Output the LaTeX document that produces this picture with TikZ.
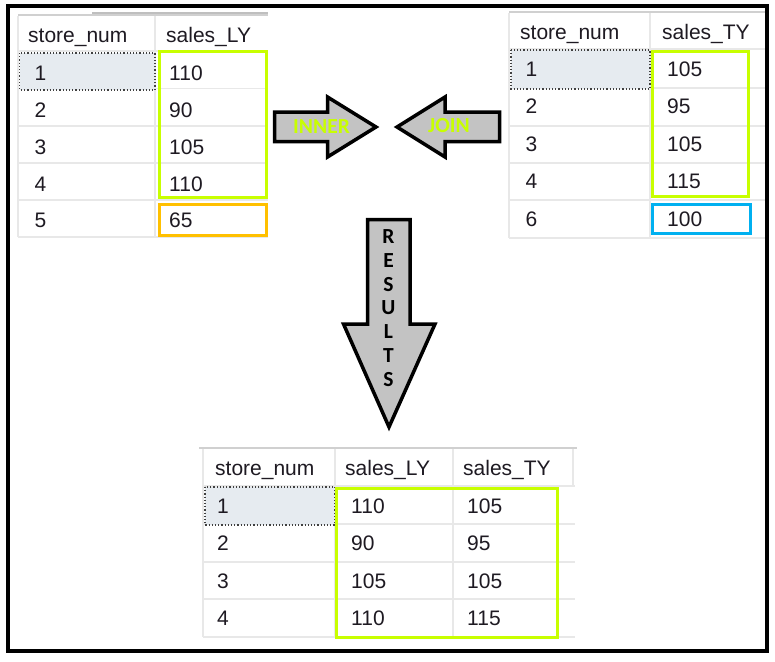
\documentclass[tikz,border=0pt]{standalone}
\usepackage{fontspec}
\setmainfont{Liberation Sans}
\newfontfamily\arrowfont{Carlito}
\definecolor{hilime}{RGB}{200,255,0}
\definecolor{gridc}{RGB}{232,232,232}
\definecolor{topc}{RGB}{208,208,208}
\definecolor{selc}{RGB}{230,235,240}
\definecolor{orangebox}{RGB}{255,192,0}
\definecolor{bluebox}{RGB}{0,176,240}
\definecolor{arrowgrey}{RGB}{195,195,195}
\definecolor{txt}{RGB}{30,26,34}
\tikzset{
  cell/.style={anchor=base west, inner sep=0pt, font=\fontsize{21}{25}\selectfont, text=txt},
  gridline/.style={draw=gridc, line width=1.5pt},
  topline/.style={draw=topc, line width=2.5pt},
  selbox/.style={fill=selc, draw=black!75, dotted, line width=1.2pt},
  hlbox/.style={line width=3pt},
  bigarrow/.style={draw=black, line width=3.5pt, fill=arrowgrey, line join=miter},
  arrowtext/.style={font=\arrowfont\bfseries\fontsize{21.5}{23.7}\selectfont, inner sep=0pt, align=center}
}
\begin{document}
\begin{tikzpicture}[x=1pt,y=-1pt]
\useasboundingbox (0,0) rectangle (775,661);
\fill[white] (0,0) rectangle (775,661);

% ---------- left table ----------
\draw[topline] (18,15) -- (268,15);
\draw[draw=black!25, line width=1.5pt] (92,13) -- (268,13);
\foreach \yy in {51,88.5,126,163,200,237} \draw[gridline] (18,\yy) -- (268,\yy);
\draw[gridline] (18,16) -- (18,237);
\draw[gridline] (155,16) -- (155,237);
\draw[selbox] (19.5,53) rectangle (155,90);
\draw[hlbox, draw=hilime] (159.5,51.5) rectangle (266.5,197.5);
\draw[hlbox, draw=orangebox] (159.5,204.5) rectangle (266.5,235.5);
\node[cell] (lh1) at (28,43) {store\_num};
\node[cell] (lh2) at (166,43) {sales\_LY};
\node[cell] (ln1) at (34.5,80) {1};   \node[cell] (lv1) at (169,80) {110};
\node[cell] (ln2) at (34.5,117) {2};  \node[cell] (lv2) at (169,117) {90};
\node[cell] (ln3) at (34.5,154) {3};  \node[cell] (lv3) at (169,154) {105};
\node[cell] (ln4) at (34.5,191) {4};  \node[cell] (lv4) at (169,191) {110};
\node[cell] (ln5) at (34.5,227) {5};  \node[cell] (lv5) at (169,227) {65};

% ---------- right table ----------
\draw[topline] (509,12) -- (768,12);
\foreach \yy in {49,88,126,163,200,238} \draw[gridline] (509,\yy) -- (766,\yy);
\draw[gridline] (509,13) -- (509,238);
\draw[gridline] (650,13) -- (650,238);
\draw[selbox] (511,50) rectangle (650,89);
\draw[hlbox, draw=hilime] (652.5,51.5) rectangle (748.5,196);
\draw[hlbox, draw=bluebox] (652.5,204) rectangle (750,233.5);
\node[cell] (rh1) at (520,40) {store\_num};
\node[cell] (rh2) at (662,40) {sales\_TY};
\node[cell] (rn1) at (525.5,76) {1};   \node[cell] (rv1) at (667,76) {105};
\node[cell] (rn2) at (525.5,113) {2};  \node[cell] (rv2) at (667,113) {95};
\node[cell] (rn3) at (525.5,151) {3};  \node[cell] (rv3) at (667,151) {105};
\node[cell] (rn4) at (525.5,188) {4};  \node[cell] (rv4) at (667,188) {115};
\node[cell] (rn6) at (525.5,226) {6};  \node[cell] (rv6) at (667,226) {100};

% ---------- result table ----------
\draw[topline] (199,448) -- (577,448);
\foreach \yy in {486,524,562,599,637} \draw[gridline] (203,\yy) -- (575,\yy);
\foreach \xx in {203,335,453} \draw[gridline] (\xx,449) -- (\xx,637);
\draw[gridline] (573,449) -- (573,486);
\draw[selbox] (205,487) rectangle (335,525);
\draw[hlbox, draw=hilime] (336.5,488) rectangle (557.5,637.5);
\node[cell] (bh1) at (215,475) {store\_num};
\node[cell] (bh2) at (345,475) {sales\_LY};
\node[cell] (bh3) at (463,475) {sales\_TY};
\node[cell] (bn1) at (217,513) {1}; \node[cell] (bl1) at (351,513) {110}; \node[cell] (bt1) at (467,513) {105};
\node[cell] (bn2) at (217,550) {2}; \node[cell] (bl2) at (351,550) {90};  \node[cell] (bt2) at (467,550) {95};
\node[cell] (bn3) at (217,588) {3}; \node[cell] (bl3) at (351,588) {105}; \node[cell] (bt3) at (467,588) {105};
\node[cell] (bn4) at (217,625) {4}; \node[cell] (bl4) at (351,625) {110}; \node[cell] (bt4) at (467,625) {115};

% ---------- arrows ----------
\draw[bigarrow] (274.5,112) -- (327.5,112) -- (327.5,97) -- (376,127) -- (327.5,157) -- (327.5,141.5) -- (274.5,141.5) -- cycle;
\node[arrowtext, text=hilime] (inner) at (321.5,126.5) {INNER};
\draw[bigarrow] (499.5,112) -- (445,112) -- (445,97) -- (397,127) -- (445,157) -- (445,141.5) -- (499.5,141.5) -- cycle;
\node[arrowtext, text=hilime] (join) at (449,125.5) {JOIN};
\draw[bigarrow] (367.5,219.5) -- (410,219.5) -- (410,324) -- (435,324) -- (389,427) -- (343.5,324) -- (367.5,324) -- cycle;
\node[arrowtext, text=black] (results) at (388.5,308) {R\\E\\S\\U\\L\\T\\S};

% ---------- outer frame ----------
\draw[line width=4pt] (7.5,6.5) rectangle (767,651);
\end{tikzpicture}
\end{document}
